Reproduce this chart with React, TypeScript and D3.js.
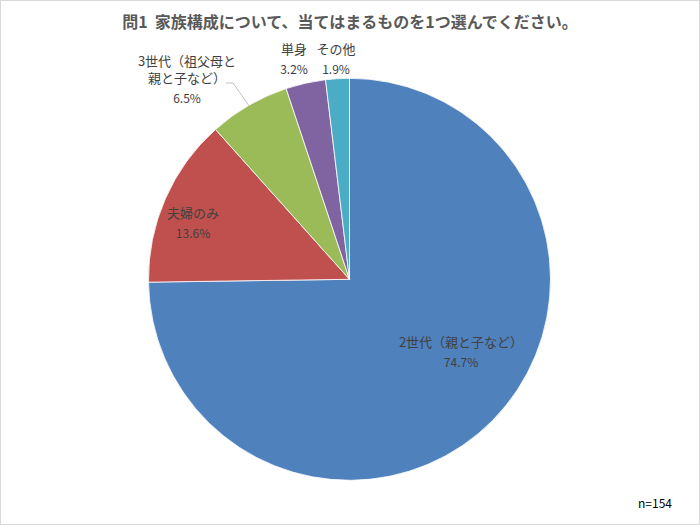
import { useEffect, useRef } from 'react';
import * as d3 from 'd3';

const title = '問1  家族構成について、当てはまるものを1つ選んでください。';
const sampleNote = 'n=154';

const categories = ['2世代（親と子など）', '夫婦のみ', '3世代（祖父母と親と子など）', '単身', 'その他'];
const labelLines = [['2世代（親と子など）'], ['夫婦のみ'], ['3世代（祖父母と', '親と子など）'], ['単身'], ['その他']];
const values = [74.7, 13.6, 6.5, 3.2, 1.9];
const colors = ['#4F81BD', '#C0504D', '#9BBB59', '#8064A2', '#4BACC6'];

// label anchor (centre of first line) per slice, in chart pixels
const labelAt: [number, number][] = [
  [461, 341],
  [193, 212],
  [187, 60],
  [294, 48],
  [336, 48],
];

const FONT = '"Noto Sans CJK JP", "Noto Sans", sans-serif';

export default function App() {
  const svgRef = useRef<SVGSVGElement>(null);

  useEffect(() => {
    if (!svgRef.current) return;
    const width = 700;
    const height = 525;
    const cx = 349.5;
    const cy = 279.3;
    const radius = 201;

    const svg = d3.select(svgRef.current);
    svg.selectAll('*').remove();

    // outer frame
    svg
      .append('rect')
      .attr('x', 0.5)
      .attr('y', 0.5)
      .attr('width', width - 1)
      .attr('height', height - 1)
      .attr('fill', '#fff')
      .attr('stroke', '#d9d9d9');

    svg
      .append('text')
      .attr('x', 350)
      .attr('y', 21)
      .attr('text-anchor', 'middle')
      .attr('dominant-baseline', 'central')
      .style('font-family', FONT)
      .style('font-size', '16px')
      .style('font-weight', 'bold')
      .style('fill', '#595959')
      .style('white-space', 'pre')
      .text(title);

    const pie = d3
      .pie<number>()
      .sort(null)
      .value((d) => d);
    const arcs = pie(values);
    const arc = d3.arc<d3.PieArcDatum<number>>().innerRadius(0).outerRadius(radius);

    const g = svg.append('g').attr('transform', `translate(${cx}, ${cy})`);
    g.selectAll('path')
      .data(arcs)
      .join('path')
      .attr('d', arc)
      .attr('fill', (_, i) => colors[i])
      .attr('stroke', '#fff')
      .attr('stroke-width', 0.8)
      .append('title')
      .text((_, i) => categories[i]);

    // leader line for the 3世代 label
    const a = arcs[2];
    const mid = (a.startAngle + a.endAngle) / 2;
    const ex = cx + radius * Math.sin(mid);
    const ey = cy - radius * Math.cos(mid);
    svg
      .append('polyline')
      .attr('points', `226,83 233,83 ${ex},${ey}`)
      .attr('fill', 'none')
      .attr('stroke', '#bfbfbf')
      .attr('stroke-width', 1);

    const labels = svg
      .selectAll('g.label')
      .data(arcs)
      .join('g')
      .attr('class', 'label')
      .attr('transform', (_, i) => `translate(${labelAt[i][0]}, ${labelAt[i][1]})`);

    labels.each(function (d, i) {
      const lg = d3.select(this);
      const lines = labelLines[i];
      lines.forEach((line, j) => {
        lg.append('text')
          .attr('x', 0)
          .attr('y', j * 17.5)
          .attr('text-anchor', 'middle')
          .attr('dominant-baseline', 'central')
          .style('font-family', FONT)
          .style('font-size', '13px')
          .style('fill', '#404040')
          .text(line);
      });
      lg.append('text')
        .attr('x', 0)
        .attr('y', (lines.length - 1) * 17.5 + 20)
        .attr('text-anchor', 'middle')
        .attr('dominant-baseline', 'central')
        .style('font-family', FONT)
        .style('font-size', '12px')
        .style('fill', '#404040')
        .text(`${d3.format('.1f')(d.data)}%`);
    });

    svg
      .append('text')
      .attr('x', 672)
      .attr('y', 502)
      .attr('text-anchor', 'end')
      .attr('dominant-baseline', 'central')
      .style('font-family', FONT)
      .style('font-size', '12px')
      .style('fill', '#000')
      .text(sampleNote);
  }, []);

  return (
    <div style={{ position: 'absolute', left: 0, top: 0 }}>
      <svg ref={svgRef} width={700} height={525} style={{ display: 'block' }} />
    </div>
  );
}
